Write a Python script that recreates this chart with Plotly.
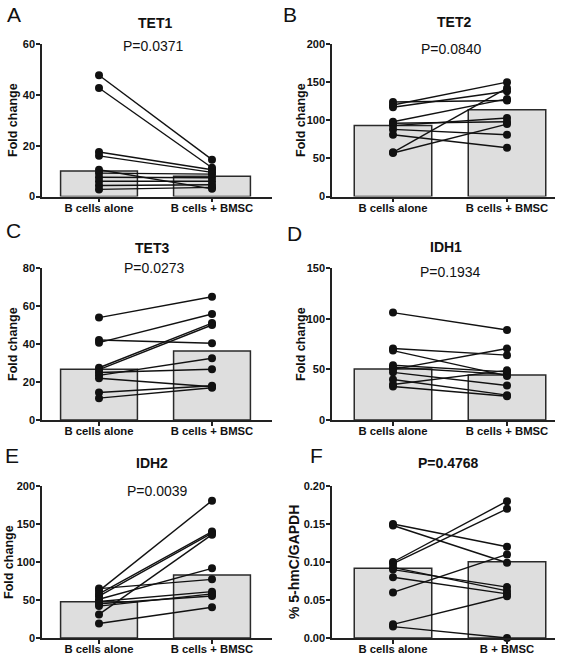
import plotly.graph_objects as go
from plotly.subplots import make_subplots

W, H = 567, 656
FONT = "Liberation Sans, Arial, Helvetica, sans-serif"

cats_default = ["B cells alone", "B cells + BMSC"]
cats_f = ["B cells alone", "B + BMSC"]

# Panel A - TET1
tet1_alone = [47.7, 42.7, 17.5, 16.0, 10.5, 9.2, 7.6, 6.0, 4.3, 2.8]
tet1_bmsc = [14.5, 11.3, 10.5, 9.5, 3.0, 8.8, 7.4, 6.0, 4.6, 3.6]
tet1_bars = [10.0, 8.0]

# Panel B - TET2
tet2_alone = [124, 120, 117, 98, 96, 93, 88, 81, 58, 57]
tet2_bmsc = [126, 150, 138, 128, 98, 103, 81, 64, 142, 95]
tet2_bars = [93.2, 113.7]

# Panel C - TET3
tet3_alone = [53.9, 42.1, 40.7, 27.5, 26.5, 25.0, 23.5, 22.0, 14.5, 11.5]
tet3_bmsc = [64.9, 40.4, 55.8, 51.0, 50.0, 26.7, 32.5, 17.5, 18.0, 17.0]
tet3_bars = [26.7, 36.3]

# Panel D - IDH1
idh1_alone = [106, 70.5, 68.5, 54, 52, 50, 47, 40, 35, 33]
idh1_bmsc = [88.8, 64, 43.5, 47.5, 45, 70.5, 34, 24.5, 49, 23.5]
idh1_bars = [50.3, 44.4]

# Panel E - IDH2
idh2_alone = [65, 62, 58, 55, 51, 48, 45, 42, 31, 19]
idh2_bmsc = [77.2, 180.7, 140, 138, 91.7, 61, 55.3, 58, 136, 40.4]
idh2_bars = [47.8, 82.9]

# Panel F - 5-hmC
hmc_alone = [0.150, 0.148, 0.100, 0.098, 0.093, 0.090, 0.080, 0.060, 0.018, 0.015]
hmc_bmsc = [0.120, 0.099, 0.180, 0.170, 0.062, 0.067, 0.058, 0.110, 0.055, 0.0]
hmc_bars = [0.0917, 0.1004]


def px(x):
    return x / W


def py(y):
    return 1 - y / H


panels = [
    dict(letter="A", title="TET1", p="P=0.0371", alone=tet1_alone, bmsc=tet1_bmsc, bars=tet1_bars,
         cats=cats_default, ymax=60, dtick=20, fmt="", ytitle="Fold change",
         xpx=(42, 272), ypx=(44, 196.5), c0=99, unit=113,
         letter_pos=(14, 15), title_pos=(155, 23), p_pos=(153, 46), yt_pos=(13, 120)),
    dict(letter="B", title="TET2", p="P=0.0840", alone=tet2_alone, bmsc=tet2_bmsc, bars=tet2_bars,
         cats=cats_default, ymax=200, dtick=50, fmt="", ytitle="Fold change",
         xpx=(332, 555), ypx=(44, 196.5), c0=393, unit=114,
         letter_pos=(290, 14), title_pos=(454, 22), p_pos=(451, 49), yt_pos=(301, 120)),
    dict(letter="C", title="TET3", p="P=0.0273", alone=tet3_alone, bmsc=tet3_bmsc, bars=tet3_bars,
         cats=cats_default, ymax=80, dtick=20, fmt="", ytitle="Fold change",
         xpx=(42, 272), ypx=(268, 420), c0=99, unit=113,
         letter_pos=(13, 231), title_pos=(152, 248), p_pos=(154, 268), yt_pos=(13, 344)),
    dict(letter="D", title="IDH1", p="P=0.1934", alone=idh1_alone, bmsc=idh1_bmsc, bars=idh1_bars,
         cats=cats_default, ymax=150, dtick=50, fmt="", ytitle="Fold change",
         xpx=(332, 555), ypx=(268, 420), c0=393, unit=114,
         letter_pos=(294, 233), title_pos=(446, 247), p_pos=(450, 272), yt_pos=(301, 344)),
    dict(letter="E", title="IDH2", p="P=0.0039", alone=idh2_alone, bmsc=idh2_bmsc, bars=idh2_bars,
         cats=cats_default, ymax=200, dtick=50, fmt="", ytitle="Fold change",
         xpx=(42, 272), ypx=(486, 638), c0=99, unit=113,
         letter_pos=(12, 455), title_pos=(152, 463), p_pos=(157, 491), yt_pos=(9, 562)),
    dict(letter="F", title="P=0.4768", p=None, alone=hmc_alone, bmsc=hmc_bmsc, bars=hmc_bars,
         cats=cats_f, ymax=0.20, dtick=0.05, fmt=".2f", ytitle="% 5-hmC/GAPDH",
         xpx=(332, 555), ypx=(486, 638), c0=393, unit=114,
         letter_pos=(316, 455), title_pos=(448, 463), p_pos=None, yt_pos=(294, 562)),
]

fig = make_subplots(rows=3, cols=2)
annotations = []


def ann(text, pos, size, angle=0):
    return dict(text=text, x=px(pos[0]), y=py(pos[1]), xref="paper", yref="paper",
                xanchor="center", yanchor="middle", showarrow=False, textangle=angle,
                font=dict(family=FONT, size=size, color="#111"))


for i, pn in enumerate(panels):
    r, c = i // 2 + 1, i % 2 + 1
    cats = pn["cats"]
    fig.add_trace(go.Bar(x=cats, y=pn["bars"], width=0.68,
                         marker=dict(color="#dedede", line=dict(color="#2a2a2a", width=1.5)),
                         showlegend=False, hoverinfo="skip"), row=r, col=c)
    for a, b in zip(pn["alone"], pn["bmsc"]):
        fig.add_trace(go.Scatter(x=cats, y=[a, b], mode="lines+markers",
                                 line=dict(color="#111111", width=1.4),
                                 marker=dict(color="#111111", size=8),
                                 cliponaxis=False, showlegend=False), row=r, col=c)
    x0, x1 = pn["xpx"]
    y0, y1 = pn["ypx"]
    lo = (x0 - pn["c0"]) / pn["unit"]
    hi = (x1 - pn["c0"]) / pn["unit"]
    xa = "xaxis" if i == 0 else f"xaxis{i+1}"
    ya = "yaxis" if i == 0 else f"yaxis{i+1}"
    fig.layout[xa].update(domain=[px(x0), px(x1)], range=[lo, hi], type="category",
                          categoryorder="array", categoryarray=cats, automargin=False,
                          showline=True, linecolor="#222", linewidth=1.5,
                          ticks="outside", ticklen=4, tickcolor="#222", tickwidth=1.5,
                          ticklabelstandoff=-4,
                          tickfont=dict(family=FONT, size=11.3, color="#111", weight="bold"),
                          showgrid=False, zeroline=False)
    fig.layout[ya].update(domain=[py(y1), py(y0)], range=[0, pn["ymax"]], dtick=pn["dtick"],
                          tickformat=pn["fmt"], automargin=False,
                          showline=True, linecolor="#222", linewidth=1.5,
                          ticks="outside", ticklen=4, tickcolor="#222", tickwidth=1.5,
                          ticklabelstandoff=-1,
                          tickfont=dict(family=FONT, size=11, color="#111", weight="bold"),
                          showgrid=False, zeroline=False)
    annotations.append(ann(pn["letter"], pn["letter_pos"], 21))
    annotations.append(ann(f"<b>{pn['title']}</b>", pn["title_pos"], 14))
    if pn["p"]:
        annotations.append(ann(pn["p"], pn["p_pos"], 14))
    annotations.append(ann(f"<b>{pn['ytitle']}</b>", pn["yt_pos"],
                           12.5 if pn["letter"] != "F" else 14, angle=-90))

fig.update_layout(width=W, height=H, margin=dict(l=0, r=0, t=0, b=0, autoexpand=False),
                  paper_bgcolor="white", plot_bgcolor="white", template="none",
                  annotations=annotations, barmode="overlay", showlegend=False,
                  font=dict(family=FONT))

fig.write_html("out.html", config={"displayModeBar": False},
               post_script="document.body.style.margin='0px';")
